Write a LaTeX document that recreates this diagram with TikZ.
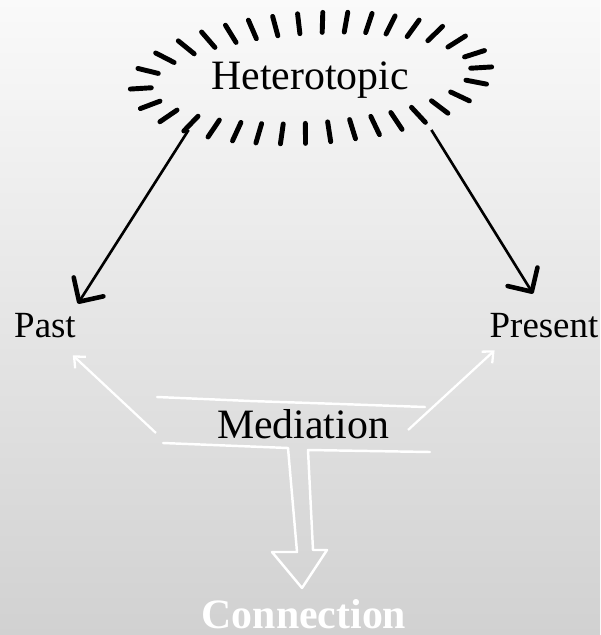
\documentclass[tikz,border=0pt]{standalone}
\usepackage{fontspec}
\setmainfont{Liberation Serif}
\usetikzlibrary{arrows.meta,shapes.geometric}

\begin{document}
\begin{tikzpicture}[x=0.02cm,y=-0.02cm,
    word/.style={inner sep=1pt,font=\fontsize{21}{25}\selectfont},
    bigword/.style={inner sep=1pt,font=\fontsize{23.8}{28}\selectfont},
    brushtick/.style={line width=2.8pt,line cap=round},
    inkarrow/.style={line width=1.5pt,-{Straight Barb[length=10pt,width=20pt,line width=2.6pt,round]}},
    chalkarrow/.style={white,line width=1.3pt,-{Straight Barb[length=5pt,width=9pt,line width=1.3pt]}},
    chalkline/.style={white,line width=1.4pt,line join=round,line cap=round}]

     \useasboundingbox (0,0) rectangle (600,635);
     \shade[top color=black!2,bottom color=black!18] (0,0) rectangle (600,635);

     % brush ticks round the top word
     \begin{scope}[shift={(311,78)},rotate=3.5]
     \foreach \t in {0,15,30,42,52,61,69,77,85,93,101,109,117,126,136,148,162,180,198,212,224,234,243,251,259,267,275,283,291,299,308,318,330,345}
          \draw[brushtick] ({160*cos(\t)},{45*sin(\t)}) -- ({181*cos(\t)},{65*sin(\t)});
     \end{scope}

     \node[bigword,ellipse,minimum width=195pt,minimum height=80pt] (hetero) at (310,80) {Heterotopic};
     \node[word] (past) at (45,326) {Past};
     \node[word] (present) at (544,326) {Present};
     \node[bigword] (med) at (303,424) {Mediation};
     \node[bigword,white,font=\fontsize{23.8}{28}\selectfont\bfseries] (conn) at (304,614) {Connection};

     \draw[inkarrow] (hetero.south west) -- ([yshift=0.16cm]past.north east);
     \draw[inkarrow] (hetero.south east) -- ([xshift=-0.22cm,yshift=0.36cm]present.north);

     \draw[chalkarrow] ([xshift=-1.18cm,yshift=-0.18cm]med.west) -- ([xshift=-0.1cm,yshift=-0.3cm]past.south east);
     \draw[chalkarrow] ([xshift=0.34cm,yshift=-0.12cm]med.east) -- ([xshift=0.14cm,yshift=-0.2cm]present.south west);

     % bars and hollow arrow down to Connection
     \draw[chalkline] (157,397) -- (250,401) -- (340,404) -- (425,407);
     \draw[chalkline] (163,443) -- (288,448) -- (297,552) -- (272,552) -- (302,588) -- (327,550) -- (313,550) -- (308,450) -- (430,452);
\end{tikzpicture}
\end{document}
